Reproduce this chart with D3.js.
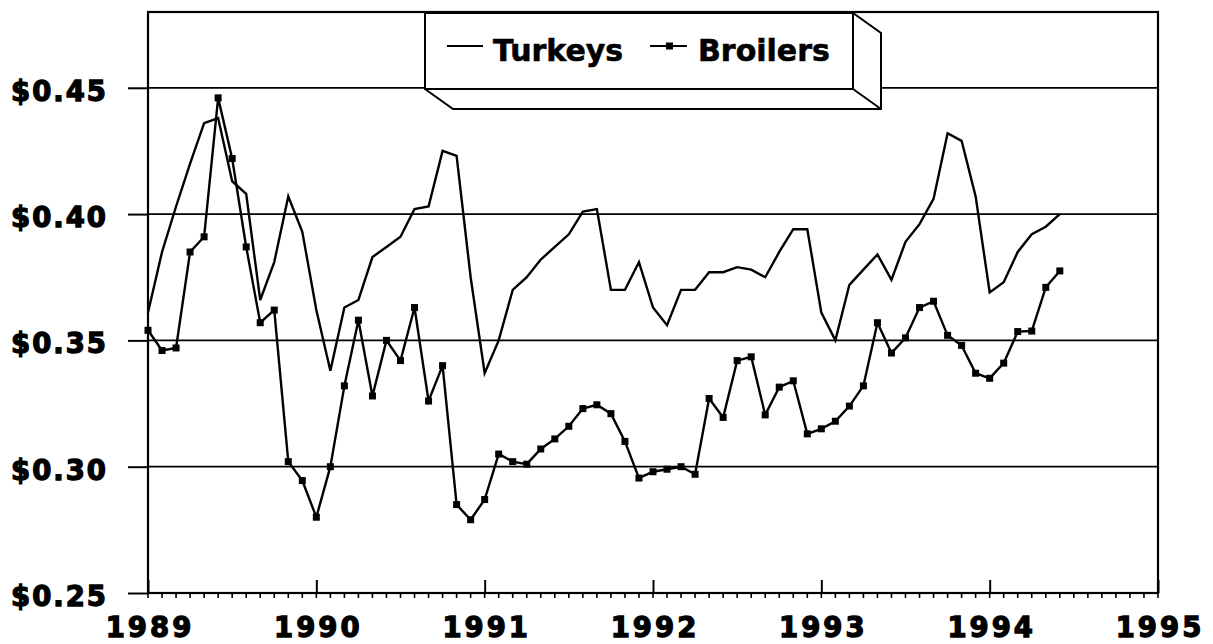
<!DOCTYPE html>
<html>
<head>
<meta charset="utf-8">
<script src="https://cdn.jsdelivr.net/npm/d3@7"></script>
<style>
  body { margin: 0; background: #fff; }
  text { font-family: "DejaVu Sans", sans-serif; font-weight: bold; fill: #000; }
</style>
</head>
<body>
<svg id="chart" width="1213" height="644"></svg>
<script>
// monthly prices, Jan 1989 - Jun 1994
var startYear = 1989;
var turkeys = [0.361, 0.385, 0.403, 0.420, 0.436, 0.438, 0.413, 0.408, 0.366, 0.381, 0.407, 0.393,
               0.362, 0.338, 0.363, 0.366, 0.383, 0.387, 0.391, 0.402, 0.403, 0.425, 0.423, 0.375,
               0.337, 0.350, 0.370, 0.375, 0.382, 0.387, 0.392, 0.401, 0.402, 0.370, 0.370, 0.381,
               0.363, 0.356, 0.370, 0.370, 0.377, 0.377, 0.379, 0.378, 0.375, 0.385, 0.394, 0.394,
               0.361, 0.350, 0.372, 0.378, 0.384, 0.374, 0.389, 0.396, 0.406, 0.432, 0.429, 0.407,
               0.369, 0.373, 0.385, 0.392, 0.395, 0.400];
var broilers = [0.354, 0.346, 0.347, 0.385, 0.391, 0.446, 0.422, 0.387, 0.357, 0.362, 0.302, 0.2945,
                0.280, 0.300, 0.332, 0.358, 0.328, 0.350, 0.342, 0.363, 0.326, 0.340, 0.285, 0.279,
                0.287, 0.305, 0.302, 0.301, 0.307, 0.311, 0.316, 0.323, 0.3245, 0.321, 0.310, 0.2955,
                0.298, 0.299, 0.300, 0.297, 0.327, 0.3195, 0.342, 0.3435, 0.3205, 0.3315, 0.334, 0.313,
                0.315, 0.318, 0.324, 0.332, 0.357, 0.345, 0.351, 0.363, 0.3655, 0.352, 0.348, 0.337,
                0.335, 0.341, 0.3535, 0.3537, 0.371, 0.3775];
var yearTicks = [1989, 1990, 1991, 1992, 1993, 1994, 1995];
var priceTicks = [0.25, 0.30, 0.35, 0.40, 0.45];
var seriesNames = ["Turkeys", "Broilers"];

var svg = d3.select("#chart");
var plotL = 148, plotR = 1158, plotT = 12, plotB = 593;

var x = d3.scaleLinear().domain([1989, 1995]).range([plotL, plotR]);
var y = d3.scaleLinear().domain([0.25, 0.48]).range([plotB, plotT]);

function monthOf(i) { return startYear + i / 12; }

// gridlines
svg.append("g").selectAll("line")
    .data(priceTicks.slice(1))
  .enter().append("line")
    .attr("x1", plotL).attr("x2", plotR)
    .attr("y1", function(d) { return y(d); })
    .attr("y2", function(d) { return y(d); })
    .attr("stroke", "#000").attr("stroke-width", 1.8);

// frame
svg.append("rect")
    .attr("x", plotL).attr("y", plotT)
    .attr("width", plotR - plotL).attr("height", plotB - plotT)
    .attr("fill", "none").attr("stroke", "#000").attr("stroke-width", 2.2);

// y axis
var yAxis = svg.append("g")
    .attr("transform", "translate(" + plotL + ",0)")
    .call(d3.axisLeft(y).tickValues(priceTicks).tickSize(20).tickPadding(20)
      .tickFormat(d3.format("$.2f")));
yAxis.select(".domain").remove();
yAxis.selectAll("line").attr("stroke-width", 2);
yAxis.selectAll("text")
    .attr("dy", "0.45em")
    .style("font-size", "27.5px")
    .style("letter-spacing", "2px")
    .attr("stroke", "#000").attr("stroke-width", 1.3);

// x axis: year ticks point up, month ticks hang below
var xAxis = svg.append("g")
    .attr("transform", "translate(0," + plotB + ")")
    .call(d3.axisBottom(x).tickValues(yearTicks).tickSizeInner(-13).tickSizeOuter(0)
      .tickFormat(d3.format("d")));
xAxis.select(".domain").remove();
xAxis.selectAll("line").attr("stroke-width", 2);
xAxis.selectAll("text")
    .attr("y", 44).attr("dy", 0).attr("dx", 1.5)
    .style("font-size", "27.5px")
    .style("letter-spacing", "3px")
    .attr("stroke", "#000").attr("stroke-width", 1.3);

svg.append("g").selectAll("line")
    .data(d3.range(0, 73))
  .enter().append("line")
    .attr("x1", function(d) { return x(monthOf(d)); })
    .attr("x2", function(d) { return x(monthOf(d)); })
    .attr("y1", plotB).attr("y2", plotB + 5)
    .attr("stroke", "#000").attr("stroke-width", 1.6);

// series
var line = d3.line()
    .x(function(d, i) { return x(monthOf(i)); })
    .y(function(d) { return y(d); });

svg.append("path")
    .datum(turkeys)
    .attr("d", line)
    .attr("fill", "none").attr("stroke", "#000").attr("stroke-width", 2.4);

svg.append("path")
    .datum(broilers)
    .attr("d", line)
    .attr("fill", "none").attr("stroke", "#000").attr("stroke-width", 2.4);

svg.append("g").selectAll("rect")
    .data(broilers)
  .enter().append("rect")
    .attr("x", function(d, i) { return x(monthOf(i)) - 3.5; })
    .attr("y", function(d) { return y(d) - 3.5; })
    .attr("width", 7).attr("height", 7)
    .attr("fill", "#000");

// legend box (3d)
var legend = svg.append("g");
legend.append("polygon")
    .attr("points", "425,13 853,13 881,33 881,109 453,109 425,89")
    .attr("fill", "#fff").attr("stroke", "#000").attr("stroke-width", 2);
legend.append("polyline")
    .attr("points", "425,13 425,89 853,89 853,13")
    .attr("fill", "none").attr("stroke", "#000").attr("stroke-width", 2);
legend.append("line")
    .attr("x1", 853).attr("y1", 89).attr("x2", 881).attr("y2", 109)
    .attr("stroke", "#000").attr("stroke-width", 2);
legend.append("line")
    .attr("x1", 425).attr("y1", 13).attr("x2", 853).attr("y2", 13)
    .attr("stroke", "#000").attr("stroke-width", 2.2);

legend.append("line")
    .attr("x1", 447).attr("x2", 483).attr("y1", 46).attr("y2", 46)
    .attr("stroke", "#000").attr("stroke-width", 2);
legend.append("text")
    .attr("x", 493).attr("y", 61)
    .style("font-size", "30px")
    .attr("stroke", "#000").attr("stroke-width", 0.6)
    .text(seriesNames[0]);

legend.append("line")
    .attr("x1", 650).attr("x2", 687).attr("y1", 46).attr("y2", 46)
    .attr("stroke", "#000").attr("stroke-width", 2);
legend.append("rect")
    .attr("x", 666).attr("y", 42.5).attr("width", 7).attr("height", 7)
    .attr("fill", "#000");
legend.append("text")
    .attr("x", 698).attr("y", 61)
    .style("font-size", "30px")
    .attr("stroke", "#000").attr("stroke-width", 0.6)
    .text(seriesNames[1]);
</script>
</body>
</html>
